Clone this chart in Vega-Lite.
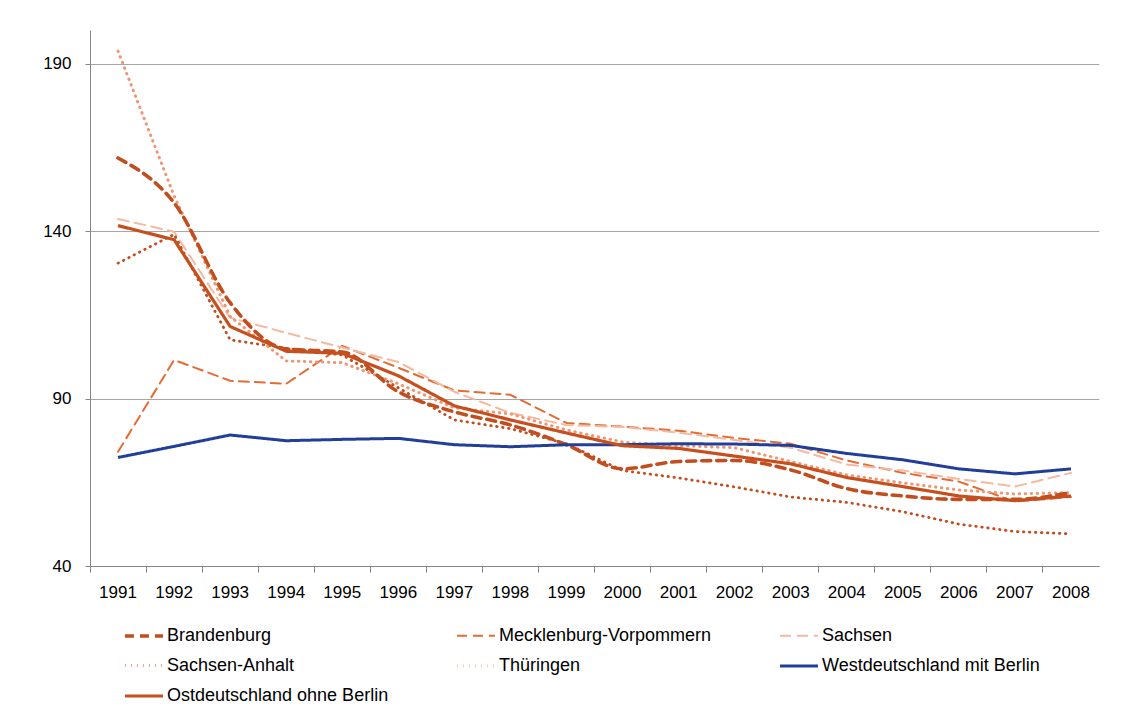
{
  "$schema": "https://vega.github.io/schema/vega-lite/v6.json",
  "width": 1009,
  "height": 536,
  "autosize": {"type": "none"},
  "padding": {"left": 90, "top": 30, "right": 24, "bottom": 147},
  "background": "white",
  "config": {
    "font": "Liberation Sans",
    "view": {"stroke": null},
    "axis": {"labelFont": "Liberation Sans", "labelFontSize": 17, "labelColor": "#000000", "domainColor": "#868686", "tickColor": "#868686", "domainWidth": 1, "tickWidth": 1}
  },
  "data": {
    "values": [
      {"year": "1991", "region": "Brandenburg", "value": 161.8},
      {"year": "1992", "region": "Brandenburg", "value": 148.4},
      {"year": "1993", "region": "Brandenburg", "value": 118.6},
      {"year": "1994", "region": "Brandenburg", "value": 104.8},
      {"year": "1995", "region": "Brandenburg", "value": 103.9},
      {"year": "1996", "region": "Brandenburg", "value": 92.0},
      {"year": "1997", "region": "Brandenburg", "value": 86.0},
      {"year": "1998", "region": "Brandenburg", "value": 82.1},
      {"year": "1999", "region": "Brandenburg", "value": 76.2},
      {"year": "2000", "region": "Brandenburg", "value": 69.0},
      {"year": "2001", "region": "Brandenburg", "value": 71.2},
      {"year": "2002", "region": "Brandenburg", "value": 71.5},
      {"year": "2003", "region": "Brandenburg", "value": 68.7},
      {"year": "2004", "region": "Brandenburg", "value": 63.1},
      {"year": "2005", "region": "Brandenburg", "value": 60.9},
      {"year": "2006", "region": "Brandenburg", "value": 59.9},
      {"year": "2007", "region": "Brandenburg", "value": 59.9},
      {"year": "2008", "region": "Brandenburg", "value": 61.9},

      {"year": "1991", "region": "Mecklenburg-Vorpommern", "value": 74.1},
      {"year": "1992", "region": "Mecklenburg-Vorpommern", "value": 101.5},
      {"year": "1993", "region": "Mecklenburg-Vorpommern", "value": 95.3},
      {"year": "1994", "region": "Mecklenburg-Vorpommern", "value": 94.4},
      {"year": "1995", "region": "Mecklenburg-Vorpommern", "value": 105.7},
      {"year": "1996", "region": "Mecklenburg-Vorpommern", "value": 99.2},
      {"year": "1997", "region": "Mecklenburg-Vorpommern", "value": 92.4},
      {"year": "1998", "region": "Mecklenburg-Vorpommern", "value": 91.1},
      {"year": "1999", "region": "Mecklenburg-Vorpommern", "value": 82.7},
      {"year": "2000", "region": "Mecklenburg-Vorpommern", "value": 81.6},
      {"year": "2001", "region": "Mecklenburg-Vorpommern", "value": 80.4},
      {"year": "2002", "region": "Mecklenburg-Vorpommern", "value": 78.2},
      {"year": "2003", "region": "Mecklenburg-Vorpommern", "value": 76.5},
      {"year": "2004", "region": "Mecklenburg-Vorpommern", "value": 71.5},
      {"year": "2005", "region": "Mecklenburg-Vorpommern", "value": 67.8},
      {"year": "2006", "region": "Mecklenburg-Vorpommern", "value": 65.2},
      {"year": "2007", "region": "Mecklenburg-Vorpommern", "value": 59.2},
      {"year": "2008", "region": "Mecklenburg-Vorpommern", "value": 60.6},

      {"year": "1991", "region": "Sachsen", "value": 143.6},
      {"year": "1992", "region": "Sachsen", "value": 139.8},
      {"year": "1993", "region": "Sachsen", "value": 114.1},
      {"year": "1994", "region": "Sachsen", "value": 109.6},
      {"year": "1995", "region": "Sachsen", "value": 105.2},
      {"year": "1996", "region": "Sachsen", "value": 100.9},
      {"year": "1997", "region": "Sachsen", "value": 92.0},
      {"year": "1998", "region": "Sachsen", "value": 85.7},
      {"year": "1999", "region": "Sachsen", "value": 82.1},
      {"year": "2000", "region": "Sachsen", "value": 81.5},
      {"year": "2001", "region": "Sachsen", "value": 79.8},
      {"year": "2002", "region": "Sachsen", "value": 77.6},
      {"year": "2003", "region": "Sachsen", "value": 75.3},
      {"year": "2004", "region": "Sachsen", "value": 70.3},
      {"year": "2005", "region": "Sachsen", "value": 68.5},
      {"year": "2006", "region": "Sachsen", "value": 66.0},
      {"year": "2007", "region": "Sachsen", "value": 63.7},
      {"year": "2008", "region": "Sachsen", "value": 67.8},

      {"year": "1991", "region": "Sachsen-Anhalt", "value": 130.4},
      {"year": "1992", "region": "Sachsen-Anhalt", "value": 139.0},
      {"year": "1993", "region": "Sachsen-Anhalt", "value": 107.5},
      {"year": "1994", "region": "Sachsen-Anhalt", "value": 105.0},
      {"year": "1995", "region": "Sachsen-Anhalt", "value": 103.0},
      {"year": "1996", "region": "Sachsen-Anhalt", "value": 93.2},
      {"year": "1997", "region": "Sachsen-Anhalt", "value": 83.6},
      {"year": "1998", "region": "Sachsen-Anhalt", "value": 81.0},
      {"year": "1999", "region": "Sachsen-Anhalt", "value": 76.5},
      {"year": "2000", "region": "Sachsen-Anhalt", "value": 68.5},
      {"year": "2001", "region": "Sachsen-Anhalt", "value": 66.3},
      {"year": "2002", "region": "Sachsen-Anhalt", "value": 63.6},
      {"year": "2003", "region": "Sachsen-Anhalt", "value": 60.6},
      {"year": "2004", "region": "Sachsen-Anhalt", "value": 59.0},
      {"year": "2005", "region": "Sachsen-Anhalt", "value": 56.2},
      {"year": "2006", "region": "Sachsen-Anhalt", "value": 52.5},
      {"year": "2007", "region": "Sachsen-Anhalt", "value": 50.3},
      {"year": "2008", "region": "Sachsen-Anhalt", "value": 49.6},

      {"year": "1991", "region": "Thüringen", "value": 193.7},
      {"year": "1992", "region": "Thüringen", "value": 150.5},
      {"year": "1993", "region": "Thüringen", "value": 114.5},
      {"year": "1994", "region": "Thüringen", "value": 101.2},
      {"year": "1995", "region": "Thüringen", "value": 100.7},
      {"year": "1996", "region": "Thüringen", "value": 94.4},
      {"year": "1997", "region": "Thüringen", "value": 87.2},
      {"year": "1998", "region": "Thüringen", "value": 85.4},
      {"year": "1999", "region": "Thüringen", "value": 80.6},
      {"year": "2000", "region": "Thüringen", "value": 77.0},
      {"year": "2001", "region": "Thüringen", "value": 75.9},
      {"year": "2002", "region": "Thüringen", "value": 75.3},
      {"year": "2003", "region": "Thüringen", "value": 71.2},
      {"year": "2004", "region": "Thüringen", "value": 67.2},
      {"year": "2005", "region": "Thüringen", "value": 64.8},
      {"year": "2006", "region": "Thüringen", "value": 62.7},
      {"year": "2007", "region": "Thüringen", "value": 61.5},
      {"year": "2008", "region": "Thüringen", "value": 61.9},

      {"year": "1991", "region": "Westdeutschland mit Berlin", "value": 72.4},
      {"year": "1992", "region": "Westdeutschland mit Berlin", "value": 75.7},
      {"year": "1993", "region": "Westdeutschland mit Berlin", "value": 79.1},
      {"year": "1994", "region": "Westdeutschland mit Berlin", "value": 77.4},
      {"year": "1995", "region": "Westdeutschland mit Berlin", "value": 77.8},
      {"year": "1996", "region": "Westdeutschland mit Berlin", "value": 78.1},
      {"year": "1997", "region": "Westdeutschland mit Berlin", "value": 76.2},
      {"year": "1998", "region": "Westdeutschland mit Berlin", "value": 75.6},
      {"year": "1999", "region": "Westdeutschland mit Berlin", "value": 76.2},
      {"year": "2000", "region": "Westdeutschland mit Berlin", "value": 76.2},
      {"year": "2001", "region": "Westdeutschland mit Berlin", "value": 76.5},
      {"year": "2002", "region": "Westdeutschland mit Berlin", "value": 76.4},
      {"year": "2003", "region": "Westdeutschland mit Berlin", "value": 76.0},
      {"year": "2004", "region": "Westdeutschland mit Berlin", "value": 73.6},
      {"year": "2005", "region": "Westdeutschland mit Berlin", "value": 71.7},
      {"year": "2006", "region": "Westdeutschland mit Berlin", "value": 69.0},
      {"year": "2007", "region": "Westdeutschland mit Berlin", "value": 67.5},
      {"year": "2008", "region": "Westdeutschland mit Berlin", "value": 69.0},

      {"year": "1991", "region": "Ostdeutschland ohne Berlin", "value": 141.6},
      {"year": "1992", "region": "Ostdeutschland ohne Berlin", "value": 137.4},
      {"year": "1993", "region": "Ostdeutschland ohne Berlin", "value": 111.5},
      {"year": "1994", "region": "Ostdeutschland ohne Berlin", "value": 104.1},
      {"year": "1995", "region": "Ostdeutschland ohne Berlin", "value": 103.5},
      {"year": "1996", "region": "Ostdeutschland ohne Berlin", "value": 96.8},
      {"year": "1997", "region": "Ostdeutschland ohne Berlin", "value": 87.8},
      {"year": "1998", "region": "Ostdeutschland ohne Berlin", "value": 83.6},
      {"year": "1999", "region": "Ostdeutschland ohne Berlin", "value": 79.7},
      {"year": "2000", "region": "Ostdeutschland ohne Berlin", "value": 75.9},
      {"year": "2001", "region": "Ostdeutschland ohne Berlin", "value": 75.1},
      {"year": "2002", "region": "Ostdeutschland ohne Berlin", "value": 72.8},
      {"year": "2003", "region": "Ostdeutschland ohne Berlin", "value": 70.5},
      {"year": "2004", "region": "Ostdeutschland ohne Berlin", "value": 66.4},
      {"year": "2005", "region": "Ostdeutschland ohne Berlin", "value": 63.7},
      {"year": "2006", "region": "Ostdeutschland ohne Berlin", "value": 60.9},
      {"year": "2007", "region": "Ostdeutschland ohne Berlin", "value": 59.5},
      {"year": "2008", "region": "Ostdeutschland ohne Berlin", "value": 60.9}
    ]
  },
  "encoding": {
    "x": {
      "field": "year", "type": "ordinal", "title": null,
      "scale": {"type": "band", "paddingInner": 0, "paddingOuter": 0},
      "axis": {"labelAngle": 0, "bandPosition": 0, "tickSize": 6, "labelPadding": 12, "grid": false, "ticks": true}
    },
    "y": {
      "field": "value", "type": "quantitative", "title": null,
      "scale": {"domain": [40, 200], "nice": false, "zero": false},
      "axis": {"values": [40, 90, 140, 190], "grid": true, "gridColor": "#A6A6A6", "gridWidth": 1, "tickSize": 5, "labelPadding": 14}
    },
    "color": {
      "field": "region", "type": "nominal", "title": null,
      "scale": {
        "domain": ["Brandenburg", "Mecklenburg-Vorpommern", "Sachsen", "Sachsen-Anhalt", "Thüringen", "Westdeutschland mit Berlin", "Ostdeutschland ohne Berlin"],
        "range": ["#C24E1F", "#E46C34", "#F5B9A0", "#C24E1F", "#EE9774", "#213F98", "#C64F1E"]
      },
      "legend": {
        "orient": "none", "legendX": 33, "legendY": 585, "direction": "horizontal", "columns": 3,
        "symbolType": "stroke", "symbolSize": 1450, "labelFontSize": 18, "labelFont": "Liberation Sans", "labelColor": "#000000",
        "labelOffset": 2, "columnPadding": 61, "rowPadding": -10, "labelLimit": 400
      }
    },
    "strokeDash": {
      "field": "region", "type": "nominal", "title": null,
      "scale": {
        "domain": ["Brandenburg", "Mecklenburg-Vorpommern", "Sachsen", "Sachsen-Anhalt", "Thüringen", "Westdeutschland mit Berlin", "Ostdeutschland ohne Berlin"],
        "range": [[9, 6], [10, 6], [11, 6], [0.5, 5.5], [0.5, 5.5], [1, 0], [1, 0]]
      }
    },
    "strokeWidth": {
      "field": "region", "type": "nominal", "title": null,
      "scale": {
        "type": "ordinal",
        "domain": ["Brandenburg", "Mecklenburg-Vorpommern", "Sachsen", "Sachsen-Anhalt", "Thüringen", "Westdeutschland mit Berlin", "Ostdeutschland ohne Berlin"],
        "range": [3.6, 2, 2, 2.8, 3, 3, 3.2]
      }
    },
    "order": {"field": "year", "type": "ordinal"}
  },
  "layer": [
    {
      "transform": [{"filter": "datum.region != 'Ostdeutschland ohne Berlin' && datum.region != 'Westdeutschland mit Berlin' && datum.region != 'Brandenburg'"}],
      "mark": {"type": "line", "interpolate": "linear", "strokeCap": "round", "strokeJoin": "round"}
    },
    {
      "transform": [{"filter": "datum.region == 'Brandenburg'"}],
      "mark": {"type": "line", "interpolate": "monotone", "strokeCap": "round", "strokeJoin": "round"}
    },
    {
      "transform": [{"filter": "datum.region == 'Ostdeutschland ohne Berlin' || datum.region == 'Westdeutschland mit Berlin'"}],
      "mark": {"type": "line", "interpolate": "linear", "strokeCap": "butt", "strokeJoin": "round"}
    }
  ]
}
